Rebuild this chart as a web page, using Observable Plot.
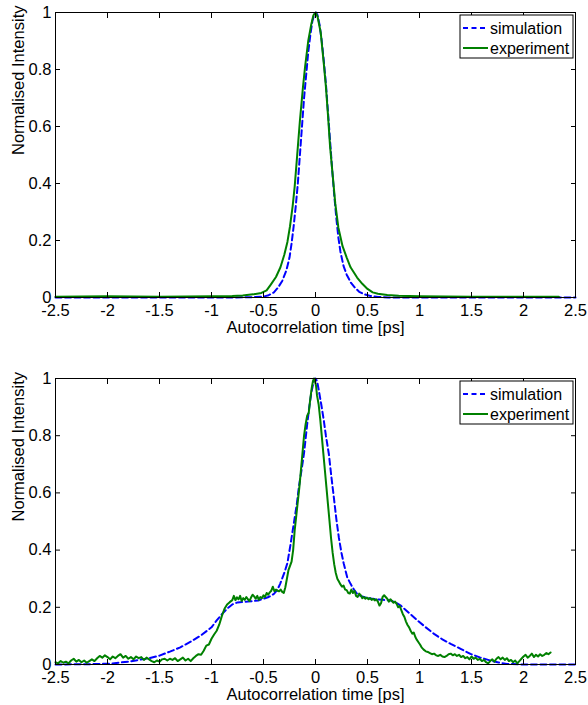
<!DOCTYPE html>
<html><head><meta charset="utf-8">
<script src="https://cdn.jsdelivr.net/npm/d3@7"></script>
<script src="https://cdn.jsdelivr.net/npm/@observablehq/plot@0.6"></script>
<style>
body{margin:0;background:#fff;}
#chart{position:relative;width:588px;height:705px;}
#chart svg{display:block;}
</style></head><body><div id="chart"></div>
<script>
const xTicks = [-2.5,-2,-1.5,-1,-0.5,0,0.5,1,1.5,2,2.5];
const yTicks = [0,0.2,0.4,0.6,0.8,1];
const seriesNames = ["simulation","experiment"];
const seriesColors = ["#0000ff","#008000"];
const xLabel = "Autocorrelation time [ps]";
const yLabel = "Normalised Intensity";

// [time ps, normalised intensity]
const simTop = [[-2.5,0],[-1.5,0],[-0.8,0],[-0.6,0.001],[-0.5,0.003],[-0.45,0.008],[-0.4,0.018],[-0.36,0.035],[-0.32,0.058],[-0.28,0.095],[-0.25,0.14],[-0.23,0.19],[-0.21,0.25],[-0.19,0.32],[-0.17,0.4],[-0.15,0.5],[-0.13,0.6],[-0.11,0.7],[-0.09,0.78],[-0.07,0.86],[-0.05,0.92],[-0.03,0.97],[-0.01,0.995],[0.005,1],[0.02,0.99],[0.04,0.955],[0.06,0.9],[0.08,0.83],[0.1,0.75],[0.12,0.65],[0.14,0.55],[0.16,0.45],[0.18,0.36],[0.2,0.28],[0.22,0.21],[0.24,0.16],[0.27,0.11],[0.3,0.08],[0.34,0.052],[0.38,0.034],[0.42,0.02],[0.47,0.011],[0.52,0.006],[0.6,0.002],[0.7,0],[1.5,0],[2.5,0]];

const expTop = [[-2.5,0.003],[-2,0.004],[-1.5,0.003],[-1,0.004],[-0.8,0.005],[-0.7,0.007],[-0.6,0.011],[-0.52,0.016],[-0.47,0.025],[-0.43,0.045],[-0.38,0.072],[-0.337,0.106],[-0.3,0.15],[-0.27,0.195],[-0.245,0.25],[-0.22,0.32],[-0.2,0.39],[-0.176,0.5],[-0.15,0.62],[-0.12,0.74],[-0.1,0.81],[-0.07,0.9],[-0.04,0.96],[-0.02,0.99],[0,1],[0.02,0.985],[0.05,0.93],[0.08,0.82],[0.1,0.74],[0.12,0.64],[0.14,0.53],[0.17,0.41],[0.19,0.33],[0.22,0.245],[0.26,0.18],[0.3,0.14],[0.337,0.106],[0.4,0.07],[0.45,0.048],[0.5,0.03],[0.55,0.018],[0.6,0.013],[0.69,0.009],[0.8,0.006],[1,0.004],[1.5,0.003],[2,0.003],[2.34,0.003]];

const simBottom = [[-2.5,0],[-2.2,0.001],[-1.97,0.003],[-1.8,0.01],[-1.6,0.022],[-1.5,0.031],[-1.4,0.045],[-1.3,0.06],[-1.2,0.08],[-1.1,0.102],[-1.0,0.13],[-0.95,0.154],[-0.9,0.176],[-0.85,0.195],[-0.8,0.21],[-0.75,0.217],[-0.65,0.22],[-0.55,0.224],[-0.5,0.23],[-0.45,0.236],[-0.4,0.247],[-0.37,0.259],[-0.34,0.282],[-0.3,0.32],[-0.27,0.355],[-0.24,0.42],[-0.21,0.49],[-0.18,0.56],[-0.16,0.62],[-0.13,0.69],[-0.11,0.74],[-0.08,0.84],[-0.06,0.9],[-0.04,0.95],[-0.016,0.993],[0,1],[0.016,0.99],[0.032,0.958],[0.055,0.91],[0.08,0.853],[0.1,0.8],[0.128,0.737],[0.15,0.665],[0.176,0.585],[0.2,0.51],[0.224,0.445],[0.25,0.39],[0.272,0.352],[0.305,0.305],[0.337,0.282],[0.37,0.262],[0.4,0.247],[0.433,0.24],[0.5,0.232],[0.56,0.229],[0.65,0.226],[0.72,0.224],[0.78,0.215],[0.82,0.206],[0.9,0.18],[0.98,0.154],[1.06,0.13],[1.14,0.107],[1.22,0.088],[1.3,0.072],[1.4,0.054],[1.49,0.037],[1.58,0.025],[1.68,0.014],[1.76,0.007],[1.84,0.002],[2,0],[2.5,0]];

const expBottom = [[-2.5,0.008],[-2.475,0.004],[-2.45,0.012],[-2.425,0.006],[-2.4,0.01],[-2.375,0.004],[-2.35,0.014],[-2.325,0.02],[-2.3,0.01],[-2.275,0.016],[-2.25,0.008],[-2.225,0.014],[-2.2,0.006],[-2.175,0.012],[-2.15,0.018],[-2.125,0.012],[-2.1,0.022],[-2.075,0.03],[-2.05,0.024],[-2.025,0.032],[-2.0,0.026],[-1.975,0.018],[-1.95,0.028],[-1.925,0.022],[-1.9,0.03],[-1.875,0.036],[-1.85,0.024],[-1.825,0.03],[-1.8,0.02],[-1.775,0.026],[-1.75,0.018],[-1.725,0.028],[-1.7,0.022],[-1.675,0.026],[-1.65,0.016],[-1.625,0.024],[-1.6,0.018],[-1.575,0.012],[-1.55,0.008],[-1.525,0.014],[-1.5,0.01],[-1.475,0.018],[-1.45,0.02],[-1.425,0.014],[-1.4,0.02],[-1.375,0.016],[-1.35,0.022],[-1.325,0.012],[-1.3,0.018],[-1.275,0.024],[-1.25,0.014],[-1.225,0.02],[-1.2,0.012],[-1.175,0.022],[-1.15,0.03],[-1.125,0.036],[-1.1,0.034],[-1.075,0.048],[-1.05,0.066],[-1.025,0.07],[-1.0,0.09],[-0.975,0.105],[-0.95,0.118],[-0.925,0.14],[-0.9,0.17],[-0.875,0.195],[-0.85,0.21],[-0.825,0.218],[-0.8,0.225],[-0.785,0.24],[-0.77,0.225],[-0.755,0.235],[-0.74,0.228],[-0.725,0.24],[-0.71,0.222],[-0.695,0.232],[-0.68,0.226],[-0.665,0.236],[-0.65,0.228],[-0.635,0.222],[-0.62,0.234],[-0.605,0.244],[-0.59,0.238],[-0.575,0.23],[-0.56,0.24],[-0.545,0.226],[-0.53,0.236],[-0.515,0.232],[-0.5,0.242],[-0.485,0.236],[-0.47,0.25],[-0.455,0.244],[-0.44,0.252],[-0.425,0.258],[-0.41,0.272],[-0.395,0.256],[-0.38,0.262],[-0.365,0.258],[-0.35,0.256],[-0.335,0.262],[-0.32,0.254],[-0.305,0.25],[-0.29,0.27],[-0.275,0.3],[-0.26,0.33],[-0.245,0.345],[-0.23,0.36],[-0.215,0.4],[-0.2,0.47],[-0.185,0.52],[-0.17,0.57],[-0.155,0.62],[-0.14,0.68],[-0.125,0.74],[-0.11,0.8],[-0.095,0.84],[-0.08,0.87],[-0.065,0.88],[-0.05,0.93],[-0.035,0.97],[-0.025,0.99],[-0.015,1.0],[-0.005,0.99],[0.005,0.975],[0.015,0.94],[0.03,0.91],[0.045,0.86],[0.06,0.8],[0.075,0.74],[0.09,0.68],[0.105,0.62],[0.12,0.56],[0.135,0.5],[0.15,0.44],[0.165,0.39],[0.18,0.35],[0.195,0.32],[0.21,0.3],[0.225,0.29],[0.24,0.28],[0.255,0.272],[0.27,0.276],[0.285,0.262],[0.3,0.26],[0.315,0.25],[0.33,0.248],[0.345,0.262],[0.36,0.25],[0.375,0.258],[0.39,0.24],[0.405,0.236],[0.42,0.248],[0.435,0.242],[0.45,0.232],[0.465,0.236],[0.48,0.23],[0.495,0.234],[0.51,0.228],[0.525,0.232],[0.54,0.226],[0.555,0.23],[0.57,0.224],[0.585,0.228],[0.6,0.22],[0.615,0.206],[0.63,0.214],[0.645,0.236],[0.66,0.242],[0.675,0.236],[0.69,0.23],[0.705,0.22],[0.72,0.228],[0.735,0.222],[0.75,0.216],[0.765,0.22],[0.78,0.212],[0.795,0.2],[0.81,0.204],[0.825,0.19],[0.84,0.176],[0.855,0.166],[0.87,0.15],[0.885,0.138],[0.9,0.13],[0.915,0.118],[0.93,0.108],[0.945,0.112],[0.96,0.096],[0.975,0.086],[0.99,0.078],[1.005,0.07],[1.02,0.06],[1.04,0.052],[1.06,0.046],[1.08,0.044],[1.1,0.04],[1.12,0.036],[1.14,0.038],[1.16,0.032],[1.18,0.03],[1.2,0.034],[1.22,0.028],[1.24,0.026],[1.26,0.03],[1.28,0.036],[1.3,0.038],[1.32,0.032],[1.34,0.036],[1.36,0.03],[1.38,0.034],[1.4,0.026],[1.42,0.03],[1.44,0.022],[1.46,0.026],[1.48,0.018],[1.5,0.028],[1.52,0.02],[1.54,0.024],[1.56,0.016],[1.58,0.02],[1.6,0.012],[1.62,0.016],[1.64,0.008],[1.66,0.004],[1.68,0.012],[1.7,0.018],[1.72,0.01],[1.74,0.02],[1.76,0.026],[1.78,0.018],[1.8,0.024],[1.82,0.016],[1.84,0.022],[1.86,0.012],[1.88,0.016],[1.9,0.008],[1.92,0.014],[1.94,0.004],[1.96,0.012],[1.98,0.02],[2.0,0.028],[2.02,0.034],[2.04,0.024],[2.06,0.03],[2.08,0.038],[2.1,0.026],[2.12,0.034],[2.14,0.028],[2.16,0.036],[2.18,0.03],[2.2,0.034],[2.22,0.04],[2.24,0.036],[2.26,0.042]];

const W = 588, ML = 55, MR = 13;
const FONT = "'Liberation Sans', Arial, Helvetica, sans-serif";

function panel(sim, exp, height, marginTop, marginBottom) {
  const svg = Plot.plot({
    width: W, height, marginLeft: ML, marginRight: MR, marginTop, marginBottom,
    style: {fontFamily: FONT, fontSize: "16.5px", color: "#000", background: "#fff", overflow: "visible"},
    x: {domain: [-2.5, 2.5]},
    y: {domain: [0, 1]},
    marks: [
      Plot.line(sim, {x: d => d[0], y: d => d[1], stroke: seriesColors[0], strokeWidth: 2, strokeDasharray: "6,3.5"}),
      Plot.line(exp, {x: d => d[0], y: d => d[1], stroke: seriesColors[1], strokeWidth: 2}),
      Plot.frame({stroke: "#000", strokeWidth: 1}),
      Plot.axisX(xTicks, {anchor: "bottom", tickSize: -5, tickFormat: () => "", label: null}),
      Plot.axisX(xTicks, {anchor: "top", tickSize: -5, tickFormat: () => "", label: null}),
      Plot.axisY(yTicks, {anchor: "left", tickSize: -5, tickFormat: () => "", label: null}),
      Plot.axisY(yTicks, {anchor: "right", tickSize: -5, tickFormat: () => "", label: null}),
      Plot.axisX(xTicks, {anchor: "bottom", tickSize: 0, tickPadding: 7, tickFormat: d => String(d), label: null}),
      Plot.axisY(yTicks, {anchor: "left", tickSize: 0, tickPadding: 4, tickFormat: d => String(d), label: null}),
      Plot.text([xLabel], {frameAnchor: "bottom", dy: 24, lineAnchor: "top", text: d => d}),
      Plot.text([yLabel], {frameAnchor: "left", dx: -37, rotate: -90, text: d => d})
    ]
  });
  // legend box (top-right, inside frame)
  const g = d3.select(svg).append("g")
    .attr("transform", `translate(${W - MR - 115},${marginTop + 3})`)
    .attr("font-family", FONT).attr("font-size", 16).attr("text-anchor", "start");
  g.append("rect").attr("width", 113).attr("height", 43).attr("fill", "#fff").attr("stroke", "#000").attr("stroke-width", 1);
  seriesNames.forEach((name, i) => {
    const y = 13 + 20 * i;
    g.append("line").attr("x1", 3).attr("x2", 28).attr("y1", y).attr("y2", y)
      .attr("stroke", seriesColors[i]).attr("stroke-width", 2)
      .attr("stroke-dasharray", i === 0 ? "5,3.5" : null);
    g.append("text").attr("x", 30).attr("y", y).attr("dy", "0.35em")
      .attr("text-anchor", "start").attr("fill", "#000").text(name);
  });
  return svg;
}

const chart = document.getElementById("chart");
chart.appendChild(panel(simTop, expTop, 352, 12, 55));
chart.appendChild(panel(simBottom, expBottom, 353, 26, 41));
</script></body></html>
